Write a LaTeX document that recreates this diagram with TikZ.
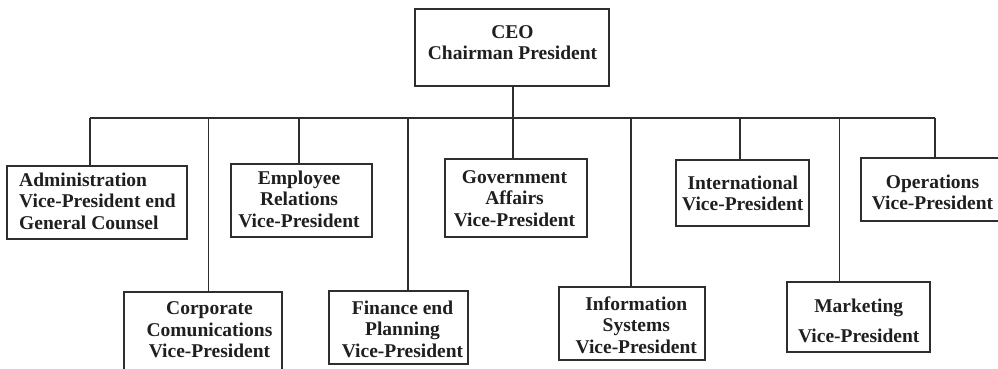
\documentclass[tikz,border=0pt]{standalone}
\usepackage{fontspec}
\setmainfont{Liberation Serif}
\begin{document}
\begin{tikzpicture}[x=1pt,y=-1pt,
  box/.style={draw=black!82,line width=1.6pt,inner sep=0pt,rectangle},
  txt/.style={font=\fontsize{19.5}{21.5}\selectfont\bfseries,text=black!88,inner sep=0pt,align=center},
  conn/.style={draw=black!82,line width=1.6pt}]
\useasboundingbox (0,0) rectangle (998,369);
\clip (0,0) rectangle (998,369);
% boxes
\node[box,minimum width=194pt,minimum height=77pt] (ceo) at (512,47.5) {};
\node[box,minimum width=180pt,minimum height=73pt] (adm) at (97,202.5) {};
\node[box,minimum width=141pt,minimum height=73pt] (emp) at (301.5,200.5) {};
\node[box,minimum width=142pt,minimum height=78pt] (gov) at (516,198) {};
\node[box,minimum width=133pt,minimum height=66pt] (intl) at (742.5,193) {};
\node[box,minimum width=144pt,minimum height=63pt] (ops) at (933,189.5) {};
\node[box,minimum width=158pt,minimum height=88pt] (corp) at (203,336) {};
\node[box,minimum width=139pt,minimum height=73pt] (fin) at (398.5,327.5) {};
\node[box,minimum width=146pt,minimum height=73pt] (info) at (632,323.5) {};
\node[box,minimum width=143pt,minimum height=70pt] (mkt) at (858.5,317) {};
% texts
\node[txt] (ceoT) at (512.5,42.5) {CEO\\Chairman President};
\node[txt,align=left] (admT) at (97.5,201.3) {Administration\\Vice-President end\\General Counsel};
\node[txt] (empT) at (299,199) {Employee\\Relations\\Vice-President};
\node[txt] (govT) at (514.5,198.3) {Government\\Affairs\\Vice-President};
\node[txt] (intlT) at (742.8,193.5) {International\\Vice-President};
\node[txt] (opsT) at (932.5,192.5) {Operations\\Vice-President};
\node[txt] (corpT) at (209.5,330) {Corporate\\Comunications\\Vice-President};
\node[txt] (finT) at (402.5,329.3) {Finance end\\Planning\\Vice-President};
\node[txt] (infoT) at (636.3,325) {Information\\Systems\\Vice-President};
\node[txt] (mktT) at (858.7,321) {Marketing\\[8.5pt]Vice-President};
% bus
\coordinate (busL) at (90,118);
\coordinate (busR) at (935,118);
\draw[conn] (busL) -- (busR);
% drop points
\coordinate (dCeo) at (513,118);
\coordinate (dAdm) at (90,118);
\coordinate (dCorp) at (208.5,118);
\coordinate (dEmp) at (299,118);
\coordinate (dFin) at (408,118);
\coordinate (dInfo) at (631,118);
\coordinate (dIntl) at (740,118);
\coordinate (dMkt) at (839.5,118);
\coordinate (dOps) at (935,118);
\draw[conn] (dCeo |- ceo.south) -- (dCeo |- gov.north);
\draw[conn] (dAdm) -- (dAdm |- adm.north);
\draw[conn] (dCorp) -- (dCorp |- corp.north);
\draw[conn] (dEmp) -- (dEmp |- emp.north);
\draw[conn] (dFin) -- (dFin |- fin.north);
\draw[conn] (dInfo) -- (dInfo |- info.north);
\draw[conn] (dIntl) -- (dIntl |- intl.north);
\draw[conn] (dMkt) -- (dMkt |- mkt.north);
\draw[conn] (dOps) -- (dOps |- ops.north);
\end{tikzpicture}
\end{document}
